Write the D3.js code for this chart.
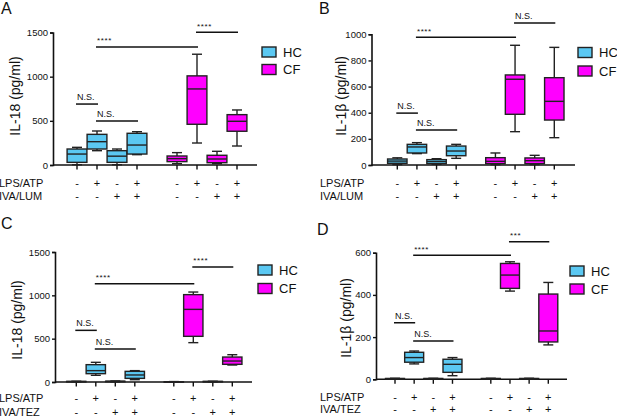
<!DOCTYPE html>
<html>
<head>
<meta charset="utf-8">
<script src="https://cdn.jsdelivr.net/npm/d3@7"></script>
<style>
  body { margin: 0; background: #fff; }
  text { font-family: "Liberation Sans", Arial, Helvetica, sans-serif; fill: #111; }
</style>
</head>
<body>
<div id="chart"></div>
<script>
// box stats per group: [min, q1, median, q3, max]
var groups = ["HC", "HC", "HC", "HC", "CF", "CF", "CF", "CF"];
var slots = [0, 1, 2, 3, 5, 6, 7, 8];
var lpsAtp = ["-", "+", "-", "+", "-", "+", "-", "+"];
var ivaDrug = ["-", "-", "+", "+", "-", "-", "+", "+"];

var il18Lum = [
  [3, 30, 124, 181, 200], [162, 181, 264, 347, 385], [3, 30, 100, 162, 181], [117, 124, 226, 359, 377],
  [15, 38, 72, 102, 140], [249, 461, 861, 1009, 1254], [15, 26, 68, 110, 155], [215, 382, 495, 570, 623]
];
var il1bLum = [
  [3, 13, 30, 46, 55], [87, 92, 138, 158, 171], [5, 10, 26, 41, 48], [51, 71, 107, 145, 158],
  [2, 10, 28, 56, 92], [255, 388, 656, 689, 916], [3, 10, 33, 54, 74], [209, 344, 487, 668, 900]
];
var il18Tez = [
  [1, 3, 5, 7, 9], [77, 96, 131, 200, 227], [2, 4, 7, 9, 12], [27, 42, 81, 123, 131],
  [0, 1, 2, 3, 5], [454, 527, 838, 1008, 1038], [1, 3, 5, 7, 9], [196, 204, 242, 288, 315]
];
var il1bTez = [
  [1, 2, 3, 4, 5], [73, 81, 103, 128, 134], [1, 2, 3, 4, 5], [17, 33, 71, 95, 103],
  [1, 2, 3, 4, 5], [418, 431, 494, 549, 557], [1, 2, 3, 4, 5], [163, 177, 229, 404, 459]
];

// significance bars: [from group, to group, height, label]
var sigA = [[0, 1, 690, "N.S."], [1, 3, 498, "N.S."], [1, 5, 1336, "****"], [5, 7, 1502, "****"]];
var sigB = [[0, 1, 397, "N.S."], [1, 3, 268, "N.S."], [1, 5, 977, "****"], [5, 7, 1086, "N.S."]];
var sigC = [[0, 1, 596, "N.S."], [1, 3, 381, "N.S."], [1, 5, 1134, "****"], [5, 7, 1327, "****"]];
var sigD = [[0, 1, 268, "N.S."], [1, 3, 181, "N.S."], [1, 5, 588, "****"], [5, 7, 652, "***"]];

var colors = { HC: "#5bc8f2", CF: "#ff00ff" };

var svg = d3.select("#chart").append("svg")
  .attr("width", 617)
  .attr("height", 417);

function drawPanel(p) {
  var g = svg.append("g");

  var x = d3.scaleLinear().domain([0, 8]).range([p.x0, p.x8]);
  var y = d3.scaleLinear().domain([0, p.max]).range([p.yBottom, p.yTop]);
  var bw = (x(1) - x(0)) * 0.99;

  // panel letter
  g.append("text")
    .attr("x", p.letterX).attr("y", p.letterY)
    .style("font-size", "16px")
    .text(p.letter);

  // y axis
  var yAxis = g.append("g")
    .attr("transform", `translate(${p.left}, 0)`)
    .call(d3.axisLeft(y).tickValues(p.ticks).tickSize(3).tickPadding(2).tickFormat(d3.format("d")));
  yAxis.select(".domain").attr("stroke", "#111").attr("stroke-width", 1.6);
  yAxis.selectAll(".tick line").attr("stroke", "#111").attr("stroke-width", 1.4);
  yAxis.selectAll(".tick text")
    .style("font-size", "9.5px")
    .style("font-family", "'Liberation Sans', Arial, sans-serif");

  // x axis line and ticks
  g.append("line")
    .attr("x1", p.left).attr("x2", p.right)
    .attr("y1", p.yBottom).attr("y2", p.yBottom)
    .attr("stroke", "#111").attr("stroke-width", 1.6);
  g.selectAll(".xtick").data(slots).enter().append("line")
    .attr("x1", d => x(d)).attr("x2", d => x(d))
    .attr("y1", p.yBottom).attr("y2", p.yBottom + 4.5)
    .attr("stroke", "#111").attr("stroke-width", 1.4);

  // y title
  g.append("text")
    .attr("transform", `translate(${p.titleX}, ${p.titleY}) rotate(-90)`)
    .attr("text-anchor", "middle")
    .style("font-size", "14px")
    .text(p.title);

  // boxes
  var boxes = g.selectAll(".box").data(p.stats).enter().append("g");
  boxes.append("line")
    .attr("x1", (d, i) => x(slots[i])).attr("x2", (d, i) => x(slots[i]))
    .attr("y1", d => y(d[0])).attr("y2", d => y(d[4]))
    .attr("stroke", "#222").attr("stroke-width", 1.4);
  boxes.selectAll(".cap").data(d => [d[0], d[4]]).enter().append("line")
    .attr("x1", function() { var i = p.stats.indexOf(d3.select(this.parentNode).datum()); return x(slots[i]) - 5; })
    .attr("x2", function() { var i = p.stats.indexOf(d3.select(this.parentNode).datum()); return x(slots[i]) + 5; })
    .attr("y1", d => y(d)).attr("y2", d => y(d))
    .attr("stroke", "#222").attr("stroke-width", 1.4);
  boxes.append("rect")
    .attr("x", (d, i) => x(slots[i]) - bw / 2)
    .attr("width", bw)
    .attr("y", d => y(d[3]))
    .attr("height", d => Math.max(y(d[1]) - y(d[3]), 0.5))
    .attr("fill", (d, i) => colors[groups[i]])
    .attr("stroke", "#222").attr("stroke-width", 1.4);
  boxes.append("line")
    .attr("x1", (d, i) => x(slots[i]) - bw / 2).attr("x2", (d, i) => x(slots[i]) + bw / 2)
    .attr("y1", d => y(d[2])).attr("y2", d => y(d[2]))
    .attr("stroke", "#222").attr("stroke-width", 1.4);

  // significance bars
  p.sig.forEach(function(s) {
    var x1 = x(slots[s[0]]) - 1, x2 = x(slots[s[1]]) + 1, yy = y(s[2]);
    g.append("line")
      .attr("x1", x1).attr("x2", x2).attr("y1", yy).attr("y2", yy)
      .attr("stroke", "#111").attr("stroke-width", 1.5);
    g.append("text")
      .attr("x", x1 + 1).attr("y", yy - (s[3] === "N.S." ? 4 : 3.5))
      .style("font-size", s[3] === "N.S." ? "9px" : "8px")
      .style("letter-spacing", s[3] === "N.S." ? "0px" : "0.6px")
      .text(s[3]);
  });

  // legend
  ["HC", "CF"].forEach(function(k, i) {
    g.append("rect")
      .attr("x", p.legX).attr("y", p.legY + i * p.legGap)
      .attr("width", 14).attr("height", 10)
      .attr("fill", colors[k]).attr("stroke", "#222").attr("stroke-width", 1.4);
    g.append("text")
      .attr("x", p.legX + 21).attr("y", p.legY + i * p.legGap + 9.5)
      .style("font-size", "13px")
      .text(k);
  });

  // treatment rows
  [[p.row1, lpsAtp, "LPS/ATP"], [p.row2, ivaDrug, p.drug]].forEach(function(r) {
    g.append("text")
      .attr("x", p.labelX).attr("y", r[0])
      .style("font-size", "11px")
      .text(r[2]);
    g.selectAll(null).data(r[1]).enter().append("text")
      .attr("x", (d, i) => x(slots[i]))
      .attr("y", r[0])
      .attr("text-anchor", "middle")
      .style("font-size", "11px")
      .text(d => d);
  });
}

drawPanel({
  letter: "A", letterX: 1, letterY: 14,
  stats: il18Lum, sig: sigA, max: 1500, ticks: [0, 500, 1000, 1500],
  left: 53, right: 257, x0: 77, x8: 237, yTop: 32.5, yBottom: 165,
  title: "IL-18 (pg/ml)", titleX: 20, titleY: 96,
  legX: 262, legY: 47, legGap: 17.5,
  labelX: -1, row1: 187, row2: 199.5, drug: "IVA/LUM"
});
drawPanel({
  letter: "B", letterX: 319, letterY: 14,
  stats: il1bLum, sig: sigB, max: 1000, ticks: [0, 200, 400, 600, 800, 1000],
  left: 371.5, right: 575, x0: 397.3, x8: 554.3, yTop: 34.3, yBottom: 165,
  title: "IL-1\u03b2 (pg/ml)", titleX: 346, titleY: 96,
  legX: 578, legY: 47.5, legGap: 18.5,
  labelX: 320, row1: 187, row2: 200, drug: "IVA/LUM"
});
drawPanel({
  letter: "C", letterX: 1, letterY: 229,
  stats: il18Tez, sig: sigC, max: 1500, ticks: [0, 500, 1000, 1500],
  left: 55, right: 252, x0: 76.3, x8: 232.3, yTop: 252, yBottom: 382,
  title: "IL-18 (pg/ml)", titleX: 22, titleY: 320,
  legX: 258, legY: 265, legGap: 18.5,
  labelX: -1, row1: 402, row2: 415.5, drug: "IVA/TEZ"
});
drawPanel({
  letter: "D", letterX: 317, letterY: 235,
  stats: il1bTez, sig: sigD, max: 600, ticks: [0, 200, 400, 600],
  left: 376, right: 567, x0: 395, x8: 548.3, yTop: 252.7, yBottom: 379.3,
  title: "IL-1\u03b2 (pg/ml)", titleX: 351, titleY: 318,
  legX: 570, legY: 266, legGap: 18,
  labelX: 320, row1: 401, row2: 412.5, drug: "IVA/TEZ"
});
</script>
</body>
</html>
